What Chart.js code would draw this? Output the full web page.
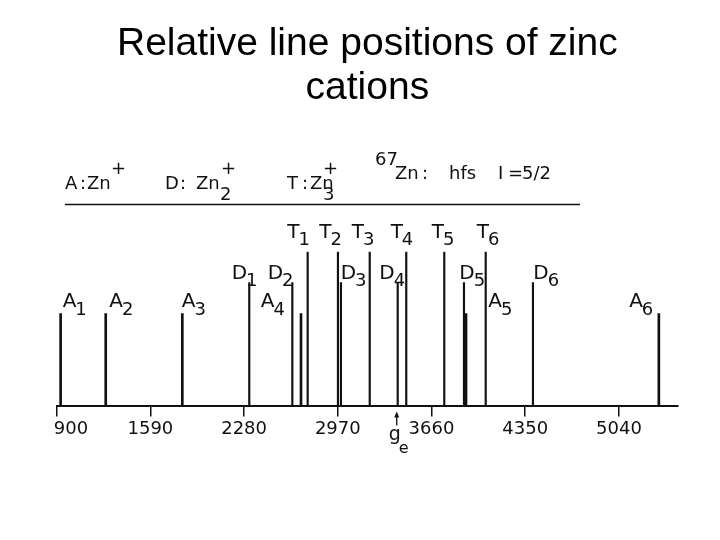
<!DOCTYPE html>
<html>
<head>
<meta charset="utf-8">
<script src="https://cdn.jsdelivr.net/npm/chart.js@4.4.1/dist/chart.umd.min.js"></script>
<style>
  html, body { margin: 0; padding: 0; background: #fff; }
  #wrap { width: 720px; height: 540px; }
</style>
</head>
<body>
<div id="wrap"><canvas id="c" width="720" height="540"></canvas></div>
<script>
// ---- data ----
const tickValues = [900, 1590, 2280, 2970, 3660, 4350, 5040];
const aPositions = [929, 1261, 1825, 2699, 3914, 5334];
const dPositions = [2318, 2635, 2993, 3411, 3899, 4407];
const tPositions = [2748, 2971, 3205, 3474, 3754, 4059];
const aHeight = 3, dHeight = 4, tHeight = 5;
const aLabels = ['1', '2', '3', '4', '5', '6'];
const dLabels = ['1', '2', '3', '4', '5', '6'];
const tLabels = ['1', '2', '3', '4', '5', '6'];
const gePosition = 3411;

// ---- label styling (pixel offsets of labels relative to their line) ----
const aLabelDx = [2, 3.6, -0.6, -40.3, 22.3, -29.7];
const dLabelDx = [-17.6, -24.6, -0.3, -18.4, -4.7, 0.3];
const tLabelDx = [-20.4, -18.7, -18, -15.6, -12.6, -9];

const INK = '#111';
const FAM = '"DejaVu Sans"';
const LETTER_FONT = '400 20px ' + FAM;
const SUB_FONT = '400 18px ' + FAM;
const HEAD_FONT = '400 18px ' + FAM;

const groups = [
  { letter: 'A', pos: aPositions, subs: aLabels, dx: aLabelDx, base: 306.5, subBase: 315 },
  { letter: 'D', pos: dPositions, subs: dLabels, dx: dLabelDx, base: 279, subBase: 286 },
  { letter: 'T', pos: tPositions, subs: tLabels, dx: tLabelDx, base: 238, subBase: 245 }
];

const labelPlugin = {
  id: 'stickLabels',
  afterDatasetsDraw(chart) {
    const ctx = chart.ctx;
    const xs = chart.scales.x;
    const ys = chart.scales.y;
    ctx.save();
    ctx.fillStyle = INK;
    ctx.strokeStyle = INK;
    ctx.textBaseline = 'alphabetic';
    ctx.textAlign = 'left';
    // stick labels
    groups.forEach(g => {
      g.pos.forEach((v, i) => {
        const x = xs.getPixelForValue(v) + g.dx[i];
        ctx.font = LETTER_FONT;
        ctx.fillText(g.letter, x, g.base);
        const w = ctx.measureText(g.letter).width;
        ctx.font = SUB_FONT;
        ctx.fillText(g.subs[i], x + w - 1, g.subBase);
      });
    });
    // header
    ctx.font = HEAD_FONT;
    const head = [
      ['A', 65, 189], [':', 80, 189], ['Zn', 87, 189], ['+', 111, 174],
      ['D', 165, 189], [':', 180, 189], ['Zn', 196, 189], ['2', 220, 200], ['+', 221, 174],
      ['T', 287, 189], [':', 302, 189], ['Zn', 310, 189], ['3', 323, 200], ['+', 323, 174],
      ['67', 375, 165], ['Zn', 395, 179], [':', 422, 179], ['hfs', 449, 179],
      ['I', 498, 179], ['=', 508, 179], ['5/2', 522, 179]
    ];
    head.forEach(h => ctx.fillText(h[0], h[1], h[2]));
    ctx.lineWidth = 1.6;
    ctx.beginPath();
    ctx.moveTo(65, 204.5);
    ctx.lineTo(580, 204.5);
    ctx.stroke();
    // g_e arrow
    const gx = xs.getPixelForValue(gePosition) - 1;
    const y0 = ys.getPixelForValue(0);
    ctx.lineWidth = 1.3;
    ctx.beginPath();
    ctx.moveTo(gx, y0 + 19);
    ctx.lineTo(gx, y0 + 7);
    ctx.stroke();
    ctx.beginPath();
    ctx.moveTo(gx - 2.5, y0 + 11);
    ctx.lineTo(gx, y0 + 5);
    ctx.lineTo(gx + 2.5, y0 + 11);
    ctx.closePath();
    ctx.fill();
    ctx.font = '400 19px ' + FAM;
    ctx.fillText('g', gx - 8, y0 + 34);
    ctx.font = '400 16px ' + FAM;
    ctx.fillText('e', gx + 2, y0 + 47);
    ctx.restore();
  }
};

const toPts = (arr, h) => arr.map(v => ({ x: v, y: h }));

new Chart(document.getElementById('c'), {
  type: 'bar',
  data: {
    datasets: [
      { label: 'A: Zn+', data: toPts(aPositions, aHeight), backgroundColor: INK, barThickness: 2 },
      { label: 'D: Zn2+', data: toPts(dPositions, dHeight), backgroundColor: INK, barThickness: 1.5 },
      { label: 'T: Zn3+', data: toPts(tPositions, tHeight), backgroundColor: INK, barThickness: 1.5 }
    ]
  },
  options: {
    responsive: false,
    animation: false,
    devicePixelRatio: 1,
    layout: { padding: { left: 56.7, right: 42, top: 0, bottom: 98 } },
    datasets: { bar: { grouped: false } },
    plugins: {
      legend: { display: false },
      tooltip: { enabled: false },
      title: {
        display: true,
        text: ['Relative line positions of zinc', 'cations'],
        color: '#000',
        font: { family: '"Liberation Sans", Arial, sans-serif', size: 39, weight: 'normal', lineHeight: 44 / 39 },
        padding: { top: 22, bottom: 141.7 }
      }
    },
    scales: {
      x: {
        type: 'linear',
        min: 900,
        max: 5475,
        offset: false,
        afterBuildTicks: (scale) => { scale.ticks = tickValues.map(v => ({ value: v })); },
        ticks: {
          color: INK,
          font: { family: 'DejaVu Sans', size: 18, weight: '400' },
          padding: 2,
          maxRotation: 0,
          autoSkip: false,
          callback: (v) => (v === tickValues[0] ? '\u00a0\u00a0\u00a0\u00a0\u00a0' + v : String(v))
        },
        grid: { display: true, offset: false, drawOnChartArea: false, drawTicks: true, tickLength: 10, color: INK, lineWidth: 1.5 },
        border: { display: true, color: INK, width: 2 }
      },
      y: {
        display: false,
        min: 0,
        max: tHeight
      }
    }
  },
  plugins: [labelPlugin]
});
</script>
</body>
</html>
